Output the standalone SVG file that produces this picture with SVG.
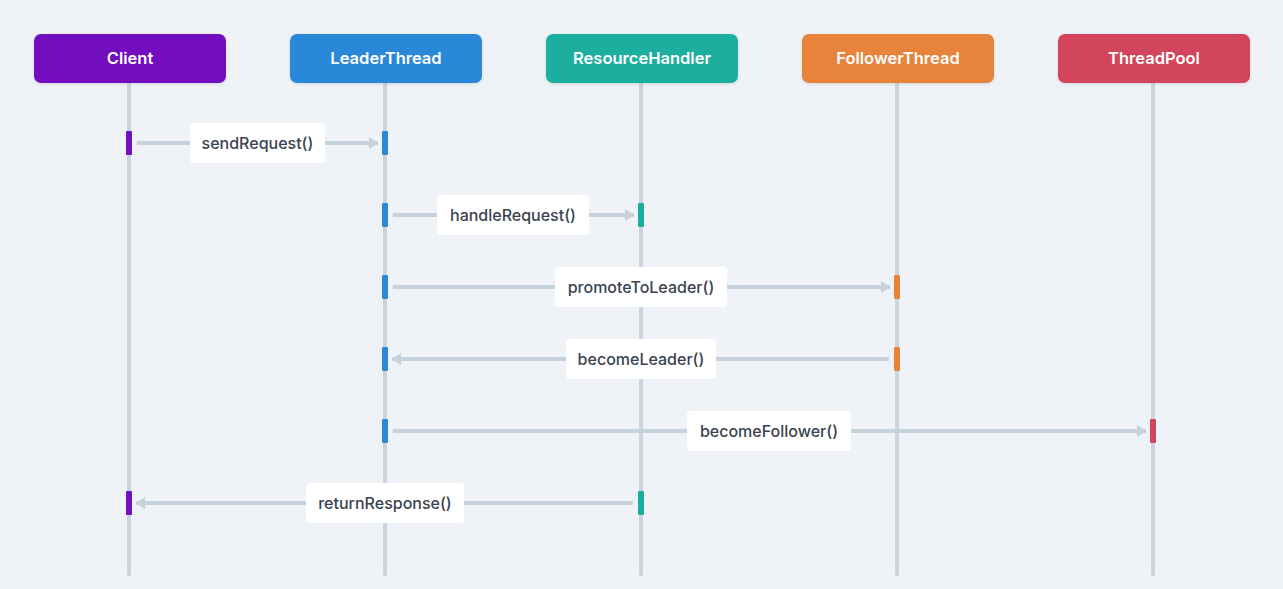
<svg xmlns="http://www.w3.org/2000/svg" width="1283" height="589" viewBox="0 0 1283 589">
<defs>
<filter id="sh" x="-10%" y="-20%" width="120%" height="150%">
<feDropShadow dx="0" dy="1" stdDeviation="1.5" flood-color="#000" flood-opacity="0.12"/>
</filter>
<marker id="ah" markerUnits="userSpaceOnUse" markerWidth="10" markerHeight="12" refX="9" refY="6" orient="auto">
<path d="M0,0 L9,6 L0,12 Z" fill="#c5d1db"/>
</marker>
</defs>
<style>
.hdr{font-family:Inter,"Liberation Sans",sans-serif;font-size:16.5px;font-weight:600;fill:#ffffff;text-anchor:middle}
.life{stroke:#c9d4de;stroke-width:4;stroke-linecap:round}
.msg{stroke:#c5d1db;stroke-width:4;fill:none}
.lbl{fill:#ffffff}
.lt{font-family:Inter,"Liberation Sans",sans-serif;font-size:16px;font-weight:500;fill:#3a4350;text-anchor:middle}
</style>
<rect width="1283" height="589" fill="#eff3f7"/>
<g id="lifelines">
<line class="life" x1="129" y1="83" x2="129" y2="574"/>
<line class="life" x1="385" y1="83" x2="385" y2="574"/>
<line class="life" x1="641" y1="83" x2="641" y2="574"/>
<line class="life" x1="897" y1="83" x2="897" y2="574"/>
<line class="life" x1="1153" y1="83" x2="1153" y2="574"/>
</g>
<g id="node-client">
<rect x="34" y="34" width="192" height="49" rx="7" fill="#7211c0" filter="url(#sh)"/>
<text class="hdr" x="130" y="64">Client</text>
</g>
<g id="node-leader">
<rect x="290" y="34" width="192" height="49" rx="7" fill="#2c88d9" filter="url(#sh)"/>
<text class="hdr" x="386" y="64">LeaderThread</text>
</g>
<g id="node-resource">
<rect x="546" y="34" width="192" height="49" rx="7" fill="#1aae9f" filter="url(#sh)"/>
<text class="hdr" x="642" y="64">ResourceHandler</text>
</g>
<g id="node-follower">
<rect x="802" y="34" width="192" height="49" rx="7" fill="#e8833a" filter="url(#sh)"/>
<text class="hdr" x="898" y="64">FollowerThread</text>
</g>
<g id="node-pool">
<rect x="1058" y="34" width="192" height="49" rx="7" fill="#d3455b" filter="url(#sh)"/>
<text class="hdr" x="1154" y="64">ThreadPool</text>
</g>
<g id="activations">
<rect x="126" y="131" width="6" height="24" rx="1" fill="#7211c0"/>
<rect x="382" y="131" width="6" height="24" rx="1" fill="#2c88d9"/>
<rect x="382" y="203" width="6" height="24" rx="1" fill="#2c88d9"/>
<rect x="638" y="203" width="6" height="24" rx="1" fill="#1aae9f"/>
<rect x="382" y="275" width="6" height="24" rx="1" fill="#2c88d9"/>
<rect x="894" y="275" width="6" height="24" rx="1" fill="#e8833a"/>
<rect x="382" y="347" width="6" height="24" rx="1" fill="#2c88d9"/>
<rect x="894" y="347" width="6" height="24" rx="1" fill="#e8833a"/>
<rect x="382" y="419" width="6" height="24" rx="1" fill="#2c88d9"/>
<rect x="1150" y="419" width="6" height="24" rx="1" fill="#d3455b"/>
<rect x="126" y="491" width="6" height="24" rx="1" fill="#7211c0"/>
<rect x="638" y="491" width="6" height="24" rx="1" fill="#1aae9f"/>
</g>
<g id="connectors">
<line class="msg" x1="137" y1="143" x2="378" y2="143" marker-end="url(#ah)"/>
<line class="msg" x1="393" y1="215" x2="634" y2="215" marker-end="url(#ah)"/>
<line class="msg" x1="393" y1="287" x2="890" y2="287" marker-end="url(#ah)"/>
<line class="msg" x1="889" y1="359" x2="392" y2="359" marker-end="url(#ah)"/>
<line class="msg" x1="393" y1="431" x2="1146" y2="431" marker-end="url(#ah)"/>
<line class="msg" x1="633" y1="503" x2="136" y2="503" marker-end="url(#ah)"/>
</g>
<g id="labels">
<rect class="lbl" x="190" y="123" width="135" height="40" rx="4"/>
<text class="lt" x="257.5" y="149">sendRequest()</text>
<rect class="lbl" x="437" y="195" width="152" height="40" rx="4"/>
<text class="lt" x="513" y="221">handleRequest()</text>
<rect class="lbl" x="555" y="267" width="172" height="40" rx="4"/>
<text class="lt" x="641" y="293">promoteToLeader()</text>
<rect class="lbl" x="566" y="339" width="150" height="40" rx="4"/>
<text class="lt" x="641" y="365">becomeLeader()</text>
<rect class="lbl" x="687" y="411" width="164" height="40" rx="4"/>
<text class="lt" x="769" y="437">becomeFollower()</text>
<rect class="lbl" x="306" y="483" width="158" height="40" rx="4"/>
<text class="lt" x="385" y="509">returnResponse()</text>
</g>
</svg>
